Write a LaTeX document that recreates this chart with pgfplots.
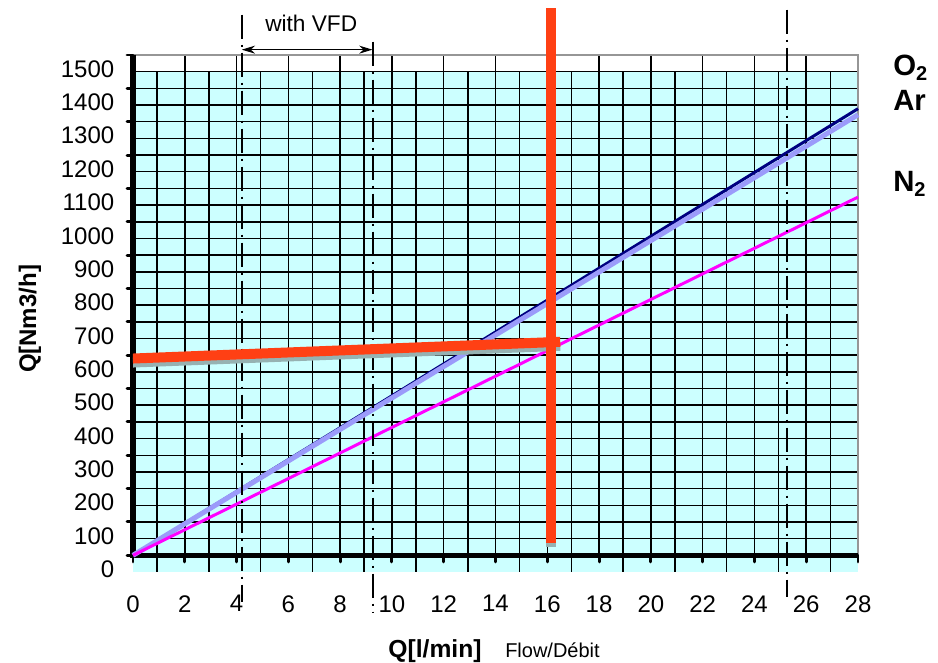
\documentclass[border=0pt]{standalone}
\usepackage{pgfplots}
\pgfplotsset{compat=1.18}
\usetikzlibrary{arrows.meta}
\usepackage{fontspec}
\setmainfont{Liberation Sans}
\definecolor{bgcyan}{RGB}{204,255,255}
\definecolor{otwo}{RGB}{0,0,128}
\definecolor{argon}{RGB}{155,155,250}
\definecolor{ntwo}{RGB}{255,0,255}
\definecolor{redl}{RGB}{255,64,20}
\definecolor{shadowc}{RGB}{150,178,178}
\definecolor{framec}{RGB}{150,150,150}
\begin{document}
\begin{tikzpicture}
\begin{axis}[
  at={(0,0)}, anchor=south west,
  scale only axis, width=543.75pt, height=387.75pt,
  xmin=0, xmax=28, ymin=-50, ymax=1500,
  clip=false,
  axis line style={draw=none},
  major tick length=0pt, minor tick length=0pt,
  xtick={0,2,...,28}, ytick={0,100,...,1500},
  xticklabels={0,2,4,6,8,10,12,14,16,18,20,22,24,26,28},
  yticklabels={0,100,200,300,400,500,600,700,800,900,1000,1100,1200,1300,1400,1500},
  ticklabel style={font=\fontsize{18}{20}\selectfont},
  xticklabel style={anchor=north, yshift=-14pt},
  yticklabel style={anchor=east, xshift=-10.5pt, yshift=-10.5pt},
]
% background
\fill[bgcyan] (axis cs:0,-50) rectangle (axis cs:28,1450);
% grid
\pgfplotsinvokeforeach{1,3,...,27}{\draw[black, line width=1.1pt] (axis cs:#1-0.07,-50) -- (axis cs:#1-0.07,1450);}
\pgfplotsinvokeforeach{2,4,...,26}{\draw[black, line width=1.1pt] (axis cs:#1,0) -- (axis cs:#1,1500);}
\pgfplotsinvokeforeach{50,100,...,1450}{\draw[black, line width=1.1pt] (axis cs:0,#1) -- (axis cs:28,#1);}
% frame
\draw[framec, line width=0.9pt] (axis cs:0,1500) -- (axis cs:28,1500) -- (axis cs:28,0);
% thick axes
\draw[black, line width=3.8pt] (axis cs:0,1500) -- (axis cs:0,0) -- (axis cs:28,0);
\pgfplotsinvokeforeach{0,100,...,1500}{\draw[black, line width=2.2pt, line cap=round] (axis cs:0,#1) -- ([xshift=-4.5pt]axis cs:0,#1);}
\pgfplotsinvokeforeach{0,2,...,28}{\draw[black, line width=2.2pt, line cap=round] (axis cs:#1,0) -- ([yshift=-5pt]axis cs:#1,0);}
% data lines
\addplot[otwo, line width=2.25pt] coordinates {(0,0) (28,1339)};
\addplot[argon, line width=3.75pt] coordinates {(0,0) (28,1321)};
\addplot[ntwo, line width=2.25pt] coordinates {(0,0) (28,1074)};
% VFD / limit lines
\addplot[black, line width=1.5pt, dash pattern=on 18pt off 4.5pt on 1.5pt off 4.5pt] coordinates {(4.2,1621) (4.2,-140)};
\addplot[black, line width=1.5pt, dash pattern=on 18pt off 4.5pt on 1.5pt off 4.5pt] coordinates {(9.25,1540) (9.25,-170)};
\addplot[black, line width=1.5pt, dash pattern=on 18pt off 4.5pt on 1.5pt off 4.5pt] coordinates {(25.25,1636) (25.25,-125)};
\draw[black, line width=1.1pt, {Stealth[length=10pt,width=6pt]}-{Stealth[length=10pt,width=6pt]}] (axis cs:4.2,1516) -- (axis cs:9.25,1516);
% operating point
\addplot[shadowc, line width=7.5pt] coordinates {(0,578) (16.5,628)};
\addplot[shadowc, line width=7.5pt] coordinates {(16.16,25) (16.16,1600)};
\addplot[redl, line width=7.5pt] coordinates {(0,590) (16.5,640)};
\addplot[redl, line width=7.5pt] coordinates {(16.16,37) (16.16,1642)};
\end{axis}
% texts
\node[anchor=base west, inner sep=0pt, font=\fontsize{17}{19}\selectfont] at (99pt,405.2pt) {with VFD};
\node[rotate=90, inner sep=0pt, font=\fontsize{18}{20}\selectfont\bfseries] at (-77.25pt,189.75pt) {Q[Nm3/h]};
\node[anchor=base, inner sep=0pt, font=\fontsize{18.5}{20}\selectfont\bfseries] at (226.5pt,-64.1pt) {Q[l/min]};
\node[anchor=base west, inner sep=0pt, font=\fontsize{15}{17}\selectfont] at (279pt,-64.1pt) {Flow/Débit};
\node[anchor=base west, inner sep=0pt, font=\fontsize{22}{24}\selectfont\bfseries] at (570pt,372pt) {O\raisebox{-3.75pt}{\fontsize{15}{16}\selectfont 2}};
\node[anchor=base west, inner sep=0pt, font=\fontsize{22}{24}\selectfont\bfseries] at (570pt,345.75pt) {Ar};
\node[anchor=base west, inner sep=0pt, font=\fontsize{22}{24}\selectfont\bfseries] at (570pt,285pt) {N\raisebox{-3.75pt}{\fontsize{15}{16}\selectfont 2}};
% canvas
\path (-99.75pt,-67.5pt) rectangle (603.75pt,429pt);
\end{tikzpicture}
\end{document}
